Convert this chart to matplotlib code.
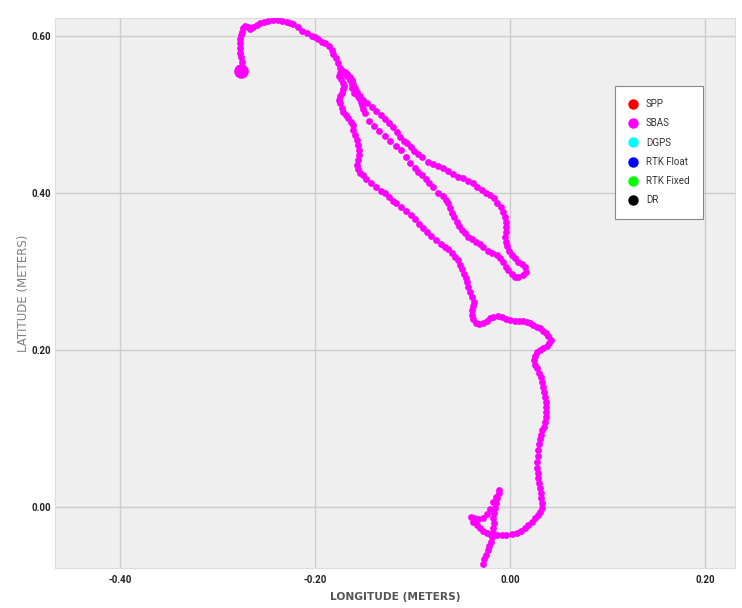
import matplotlib.pyplot as plt
from matplotlib.lines import Line2D

# track points (longitude, latitude) in metres, in driving order
seg_start = [(-0.0298, -0.0828), (-0.0277, -0.0726), (-0.0267, -0.0662), (-0.0246, -0.0611),
             (-0.0226, -0.0548), (-0.0215, -0.0497), (-0.0195, -0.0446), (-0.0185, -0.0382),
             (-0.0174, -0.0331), (-0.0174, -0.0268), (-0.0164, -0.0204), (-0.0174, -0.0140),
             (-0.0164, -0.0076), (-0.0154, -0.0013), (-0.0144, 0.0051), (-0.0133, 0.0115),
             (-0.0113, 0.0178), (-0.0113, 0.0217)]

seg_hook = [(-0.0144, 0.0127), (-0.0174, 0.0064), (-0.0205, -0.0025), (-0.0236, -0.0089),
            (-0.0277, -0.0140), (-0.0328, -0.0153), (-0.0369, -0.0140), (-0.0400, -0.0127),
            (-0.0380, -0.0191), (-0.0339, -0.0229), (-0.0308, -0.0268), (-0.0277, -0.0306),
            (-0.0236, -0.0331), (-0.0205, -0.0344), (-0.0174, -0.0357), (-0.0133, -0.0357),
            (-0.0082, -0.0357), (-0.0041, -0.0357), (0.0021, -0.0344), (0.0072, -0.0331),
            (0.0113, -0.0306), (0.0154, -0.0268), (0.0185, -0.0229), (0.0226, -0.0191),
            (0.0256, -0.0140), (0.0287, -0.0102), (0.0308, -0.0064), (0.0328, -0.0013),
            (0.0328, 0.0051), (0.0318, 0.0115), (0.0318, 0.0178), (0.0308, 0.0242),
            (0.0297, 0.0306), (0.0287, 0.0369), (0.0287, 0.0433), (0.0277, 0.0497),
            (0.0277, 0.0573)]

seg_east = [(0.0287, 0.0650), (0.0287, 0.0726), (0.0297, 0.0803), (0.0308, 0.0866),
            (0.0318, 0.0917), (0.0328, 0.0981), (0.0349, 0.1019), (0.0359, 0.1083),
            (0.0369, 0.1147), (0.0369, 0.1210), (0.0369, 0.1274), (0.0369, 0.1338),
            (0.0359, 0.1401), (0.0349, 0.1465), (0.0339, 0.1529), (0.0328, 0.1593),
            (0.0318, 0.1656), (0.0297, 0.1707), (0.0277, 0.1771), (0.0256, 0.1809),
            (0.0246, 0.1873), (0.0256, 0.1924), (0.0277, 0.1975), (0.0308, 0.2000),
            (0.0339, 0.2026), (0.0380, 0.2051), (0.0400, 0.2089), (0.0421, 0.2128),
            (0.0390, 0.2179), (0.0369, 0.2217), (0.0339, 0.2242), (0.0308, 0.2280),
            (0.0277, 0.2293), (0.0236, 0.2319), (0.0205, 0.2344), (0.0174, 0.2357),
            (0.0133, 0.2370), (0.0092, 0.2370), (0.0051, 0.2370), (0.0000, 0.2382),
            (-0.0041, 0.2395), (-0.0082, 0.2421), (-0.0123, 0.2433), (-0.0174, 0.2421),
            (-0.0205, 0.2408), (-0.0236, 0.2370), (-0.0277, 0.2344), (-0.0318, 0.2331),
            (-0.0349, 0.2344), (-0.0380, 0.2395), (-0.0390, 0.2446), (-0.0390, 0.2510),
            (-0.0380, 0.2561), (-0.0369, 0.2612)]

seg_west = [(-0.0390, 0.2675), (-0.0410, 0.2739), (-0.0431, 0.2803), (-0.0441, 0.2867),
            (-0.0451, 0.2917), (-0.0472, 0.2968), (-0.0492, 0.3032), (-0.0513, 0.3083),
            (-0.0533, 0.3147), (-0.0564, 0.3185), (-0.0595, 0.3236), (-0.0636, 0.3287),
            (-0.0667, 0.3312), (-0.0708, 0.3351), (-0.0759, 0.3402), (-0.0810, 0.3453),
            (-0.0851, 0.3504), (-0.0892, 0.3554), (-0.0933, 0.3605), (-0.0974, 0.3669),
            (-0.1015, 0.3720), (-0.1067, 0.3771), (-0.1118, 0.3822), (-0.1169, 0.3873),
            (-0.1200, 0.3898), (-0.1241, 0.3949), (-0.1282, 0.4000), (-0.1323, 0.4026),
            (-0.1374, 0.4076), (-0.1426, 0.4127), (-0.1477, 0.4178), (-0.1508, 0.4229),
            (-0.1538, 0.4255), (-0.1559, 0.4306), (-0.1569, 0.4357), (-0.1559, 0.4420),
            (-0.1549, 0.4484), (-0.1549, 0.4548), (-0.1559, 0.4611), (-0.1569, 0.4675),
            (-0.1590, 0.4739), (-0.1610, 0.4803), (-0.1610, 0.4866), (-0.1631, 0.4904),
            (-0.1662, 0.4955), (-0.1682, 0.4994), (-0.1713, 0.5032), (-0.1723, 0.5083),
            (-0.1744, 0.5147), (-0.1754, 0.5185), (-0.1744, 0.5236), (-0.1723, 0.5274),
            (-0.1713, 0.5325), (-0.1703, 0.5363), (-0.1713, 0.5402), (-0.1733, 0.5453),
            (-0.1754, 0.5491), (-0.1744, 0.5529), (-0.1713, 0.5554)]

seg_loop_out = [(-0.1693, 0.5542), (-0.1672, 0.5516), (-0.1641, 0.5478), (-0.1621, 0.5440),
                (-0.1610, 0.5389), (-0.1621, 0.5338), (-0.1600, 0.5274), (-0.1569, 0.5249),
                (-0.1549, 0.5210), (-0.1528, 0.5160), (-0.1518, 0.5121), (-0.1508, 0.5070),
                (-0.1487, 0.5019), (-0.1446, 0.4917), (-0.1395, 0.4854), (-0.1344, 0.4790),
                (-0.1282, 0.4727), (-0.1231, 0.4663), (-0.1169, 0.4599), (-0.1118, 0.4548),
                (-0.1067, 0.4459), (-0.1026, 0.4382), (-0.0974, 0.4319), (-0.0944, 0.4268),
                (-0.0903, 0.4229), (-0.0862, 0.4178), (-0.0831, 0.4127), (-0.0790, 0.4076),
                (-0.0738, 0.4000), (-0.0687, 0.3962), (-0.0656, 0.3911), (-0.0636, 0.3873),
                (-0.0615, 0.3809), (-0.0595, 0.3746), (-0.0574, 0.3695), (-0.0544, 0.3631),
                (-0.0523, 0.3580), (-0.0492, 0.3529), (-0.0462, 0.3491), (-0.0431, 0.3440),
                (-0.0390, 0.3414), (-0.0349, 0.3376), (-0.0308, 0.3351), (-0.0277, 0.3312),
                (-0.0226, 0.3261), (-0.0185, 0.3236), (-0.0133, 0.3210), (-0.0103, 0.3172),
                (-0.0072, 0.3121), (-0.0041, 0.3058), (-0.0021, 0.3019), (0.0021, 0.2968),
                (0.0051, 0.2930), (0.0082, 0.2930), (0.0133, 0.2956), (0.0164, 0.2994),
                (0.0154, 0.3058)]

seg_loop_back = [(0.0123, 0.3096), (0.0082, 0.3121), (0.0051, 0.3172), (0.0021, 0.3210),
                 (-0.0010, 0.3261), (-0.0031, 0.3325), (-0.0041, 0.3376), (-0.0051, 0.3440),
                 (-0.0041, 0.3504), (-0.0041, 0.3567), (-0.0041, 0.3631), (-0.0051, 0.3695),
                 (-0.0072, 0.3758), (-0.0092, 0.3822), (-0.0133, 0.3873), (-0.0164, 0.3937),
                 (-0.0205, 0.3975), (-0.0246, 0.4000), (-0.0287, 0.4038), (-0.0339, 0.4076),
                 (-0.0380, 0.4127), (-0.0431, 0.4153), (-0.0482, 0.4191), (-0.0533, 0.4204),
                 (-0.0585, 0.4242), (-0.0636, 0.4280), (-0.0687, 0.4319), (-0.0738, 0.4344),
                 (-0.0790, 0.4370), (-0.0841, 0.4395), (-0.0903, 0.4459), (-0.0944, 0.4497),
                 (-0.0985, 0.4535), (-0.1015, 0.4586), (-0.1057, 0.4637), (-0.1087, 0.4663),
                 (-0.1128, 0.4714), (-0.1159, 0.4777), (-0.1200, 0.4841), (-0.1241, 0.4892),
                 (-0.1282, 0.4943), (-0.1323, 0.4994), (-0.1374, 0.5045), (-0.1415, 0.5096),
                 (-0.1467, 0.5147), (-0.1508, 0.5185), (-0.1538, 0.5236), (-0.1569, 0.5287),
                 (-0.1590, 0.5338), (-0.1621, 0.5389), (-0.1641, 0.5440), (-0.1672, 0.5491),
                 (-0.1703, 0.5529), (-0.1723, 0.5542)]

seg_end = [(-0.1744, 0.5593), (-0.1764, 0.5656), (-0.1785, 0.5720), (-0.1815, 0.5771),
           (-0.1826, 0.5822), (-0.1856, 0.5873), (-0.1897, 0.5911), (-0.1928, 0.5924),
           (-0.1969, 0.5962), (-0.2000, 0.5988), (-0.2031, 0.6000), (-0.2082, 0.6039),
           (-0.2133, 0.6064), (-0.2174, 0.6115), (-0.2226, 0.6153), (-0.2256, 0.6166),
           (-0.2287, 0.6179), (-0.2338, 0.6192), (-0.2379, 0.6204), (-0.2431, 0.6204),
           (-0.2482, 0.6192), (-0.2523, 0.6179), (-0.2564, 0.6166), (-0.2595, 0.6140),
           (-0.2636, 0.6115), (-0.2667, 0.6090), (-0.2687, 0.6115), (-0.2718, 0.6128),
           (-0.2738, 0.6102), (-0.2749, 0.6052), (-0.2759, 0.6013), (-0.2769, 0.5962),
           (-0.2769, 0.5911), (-0.2769, 0.5848), (-0.2769, 0.5784), (-0.2759, 0.5733),
           (-0.2749, 0.5669), (-0.2749, 0.5605), (-0.2759, 0.5554)]

fix_types = ["SPP", "SBAS", "DGPS", "RTK Float", "RTK Fixed", "DR"]
fix_colors = ["#ff0000", "#ff00ff", "#00ffff", "#0000ff", "#00ff00", "#000000"]

x_ticks = [-0.4, -0.2, 0.0, 0.2]
y_ticks = [0.0, 0.2, 0.4, 0.6]

track = seg_start + seg_hook + seg_east + seg_west + seg_loop_out + seg_loop_back + seg_end
lon = [p[0] for p in track]
lat = [p[1] for p in track]

plt.rcParams['font.family'] = ['Roboto', 'DejaVu Sans']

fig = plt.figure(figsize=(7.42, 6.08), dpi=100)
ax = fig.add_axes([0.0741, 0.0658, 0.9164, 0.9038])
ax.set_facecolor('#efefef')

# all points are SBAS fixes; the current position is drawn larger
ax.scatter(lon, lat, s=24, c=fix_colors[1], linewidths=0, zorder=3)
ax.scatter(lon[-1:], lat[-1:], s=110, c=fix_colors[1], linewidths=0, zorder=4)

ax.set_xlim(-0.4667, 0.2308)
ax.set_ylim(-0.0777, 0.6223)
ax.set_xticks(x_ticks)
ax.set_xticklabels([f"{v:.2f}" for v in x_ticks])
ax.set_yticks(y_ticks)
ax.set_yticklabels([f"{v:.2f}" for v in y_ticks])
ax.tick_params(length=0, labelsize=7, labelcolor='#222222')
ax.tick_params(axis='x', pad=5)
ax.tick_params(axis='y', pad=3)
for lab in ax.get_xticklabels() + ax.get_yticklabels():
    lab.set_fontweight('bold')

ax.grid(color='#cccccc', linewidth=1)
ax.set_axisbelow(True)
for sp in ax.spines.values():
    sp.set_color('#dddddd')
    sp.set_linewidth(0.8)

ax.set_xlabel("LONGITUDE (METERS)", family='DejaVu Sans', fontsize=7.7,
              fontweight='bold', color='#555555', labelpad=5)
ax.set_ylabel("LATITUDE (METERS)", family='DejaVu Sans', fontsize=8.5,
              color='#808080', labelpad=1)

handles = [Line2D([], [], marker='o', linestyle='none', markersize=7.5,
                  markerfacecolor=c, markeredgewidth=0) for c in fix_colors]
leg = ax.legend(handles, fix_types, loc='upper left', bbox_to_anchor=(0.8235, 0.877),
                borderaxespad=0, fontsize=7, labelcolor='#333333', frameon=True,
                fancybox=False, framealpha=1, edgecolor='#888888', borderpad=1.35,
                handlelength=1.1, handletextpad=0.75, labelspacing=0.95)
leg.get_frame().set_linewidth(0.8)

fig.savefig('out.png', dpi=100)
